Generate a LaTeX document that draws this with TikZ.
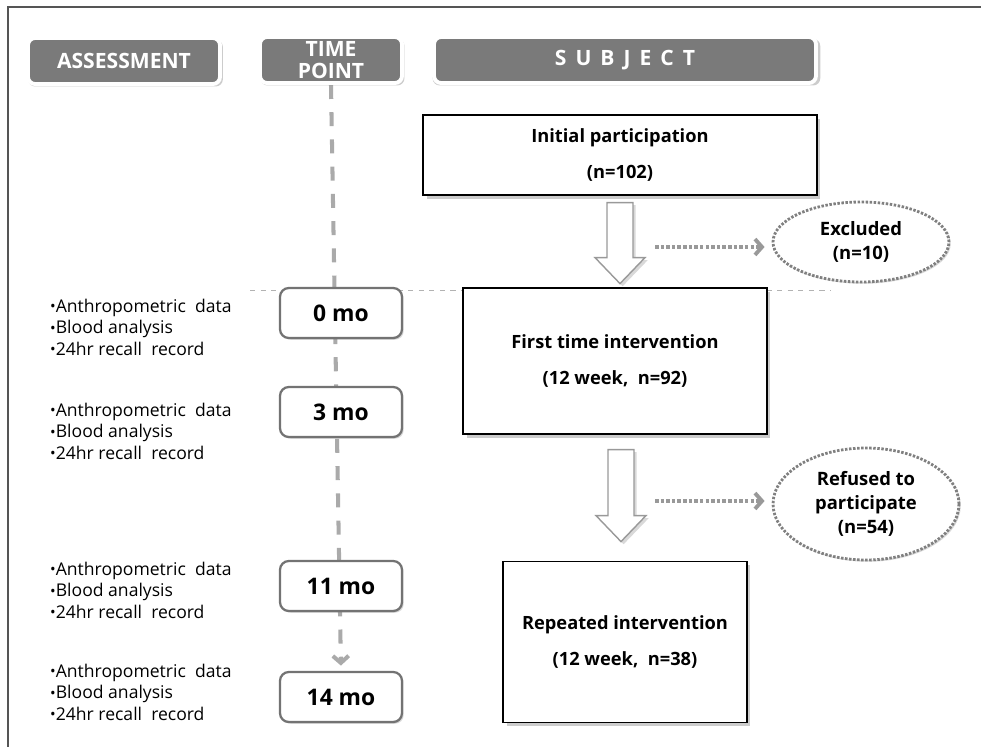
\documentclass[tikz,border=0pt]{standalone}
\usepackage{fontspec}
\setmainfont{Open Sans}
\usetikzlibrary{positioning}
\usetikzlibrary{calc}
\usetikzlibrary{shapes.geometric}
\usetikzlibrary{shadows, backgrounds}
\usetikzlibrary{arrows.meta}

\definecolor{headgray}{HTML}{7A7A7A}
\definecolor{linegray}{HTML}{AAAAAA}
\definecolor{dotgray}{HTML}{999999}
\definecolor{framegray}{HTML}{555555}

\newcommand{\bul}{\raisebox{0.05ex}{\scalebox{0.85}{•}}}

\tikzset{
  header/.style={draw=white, line width=2.2pt, fill=headgray, rounded corners=4pt,
    text=white, inner sep=0pt, align=center, font=\fontsize{12}{12.5}\selectfont\bfseries,
    drop shadow={opacity=0.4, shadow xshift=0.8pt, shadow yshift=-1.2pt, shadow scale=1.015}},
  subjbox/.style={draw=black, line width=0.7pt, fill=white, align=center,
    font=\fontsize{10.4}{21}\selectfont\bfseries,
    drop shadow={opacity=0.4, shadow xshift=2pt, shadow yshift=-2pt}},
  timebox/.style={draw=gray!90!black, line width=1.3pt, rounded corners=5pt, fill=white,
    minimum width=2.44cm, minimum height=1cm, font=\fontsize{13}{14}\selectfont\bfseries,
    drop shadow={opacity=0.3, shadow xshift=1pt, shadow yshift=-1pt}},
  outbox/.style={ellipse, draw=gray, line width=1.6pt, dash pattern=on 1.4pt off 0.9pt,
    fill=white, inner sep=0pt, align=center, font=\fontsize{10.5}{13.5}\selectfont\bfseries,
    drop shadow={opacity=0.3, shadow xshift=1pt, shadow yshift=-1pt}},
  assess/.style={anchor=west, align=left, font=\fontsize{10}{12.2}\selectfont},
  timeline/.style={linegray, line width=2.3pt, dash pattern=on 8pt off 7.5pt},
  dotarrow/.style={dotgray, line width=2.2pt, dash pattern=on 2pt off 1.2pt,
    -{Straight Barb[length=4pt, width=9pt]}, shorten >=4pt},
  hollow/.style={draw=gray!80, line width=0.8pt, fill=white,
    drop shadow={opacity=0.3, shadow xshift=1.5pt, shadow yshift=-1.5pt}}
}

\begin{document}
\begin{tikzpicture}[x=0.02cm, y=-0.02cm]
  \useasboundingbox (0,0) rectangle (981,747);

  % frame
  \draw[framegray, line width=0.8pt] (8,747) -- (8,7) -- (981,7);

  % column headers
  \node[header, minimum width=3.84cm, minimum height=0.92cm] (hass) at (124,61) {ASSESSMENT};
  \node[header, minimum width=2.84cm, minimum height=0.92cm] (htp) at (331,60) {TIME\\POINT};
  \node[header, minimum width=7.64cm, minimum height=0.92cm] (hsub) at (625,60) {S\ \,U\ \,B\ \,J\ \,E\ \,C\ \,T};

  % subjects
  \node[subjbox, minimum width=7.88cm, minimum height=1.6cm] (init) at (620,155) {Initial participation\\(n=102)};
  \node[subjbox, minimum width=6.08cm, minimum height=2.92cm] (first) at (615,361) {First time intervention\\(12 week,\ \ n=92)};
  \node[subjbox, minimum width=4.88cm, minimum height=3.22cm] (rep) at (625,642) {Repeated intervention\\(12 week,\ \ n=38)};

  % drop outs
  \node[outbox, minimum width=3.52cm, minimum height=1.6cm] (excl) at (861,242) {Excluded\\(n=10)};
  \node[outbox, minimum width=3.72cm, minimum height=2.24cm] (refu) at (866,504) {Refused to\\participate\\(n=54)};

  % time points
  \node[timebox] (t0) at (341,313) {0 mo};
  \node[timebox] (t3) at (341,412) {3 mo};
  \node[timebox] (t11) at (341,586) {11 mo};
  \node[timebox] (t14) at (341,697) {14 mo};

  % assessments
  \node[assess] (a0) at (44,327) {\bul Anthropometric\ \ data\\\bul Blood analysis\\\bul 24hr recall\ \ record};
  \node[assess] (a3) at (44,431) {\bul Anthropometric\ \ data\\\bul Blood analysis\\\bul 24hr recall\ \ record};
  \node[assess] (a11) at (44,590) {\bul Anthropometric\ \ data\\\bul Blood analysis\\\bul 24hr recall\ \ record};
  \node[assess] (a14) at (44,692) {\bul Anthropometric\ \ data\\\bul Blood analysis\\\bul 24hr recall\ \ record};

  \begin{scope}[on background layer]
    \draw[gray!60, dashed, line width=0.4pt] (250,290) -- (830,290);
    \draw[timeline, -{Straight Barb[length=4pt, width=9pt]}, shorten >=3pt] (htp.south) -- (t14.north);
  \end{scope}

  % hollow arrows
  \draw[hollow] ($(init.south)+(0,7)$) ++(-13,0) -- ++(26,0) -- ++(0,55) -- ++(12,0) -- ++(-25,26) -- ++(-25,-26) -- ++(12,0) -- cycle;
  \draw[hollow] ($(first.south)+(6,15)$) ++(-13,0) -- ++(26,0) -- ++(0,66) -- ++(12,0) -- ++(-25,26) -- ++(-25,-26) -- ++(12,0) -- cycle;

  % dotted arrows
  \coordinate (x1) at (655,247);
  \coordinate (x2) at (655,501);
  \draw[dotarrow] (x1) -- (x1 -| excl.west);
  \draw[dotarrow] (x2) -- (x2 -| refu.west);
\end{tikzpicture}
\end{document}
